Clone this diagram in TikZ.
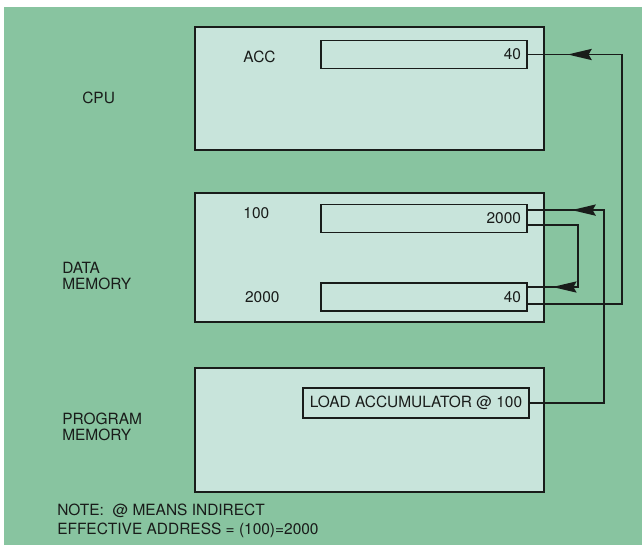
\documentclass[tikz,border=0pt]{standalone}
\usepackage{fontspec}
\setmainfont{TeX Gyre Heros}
\usetikzlibrary{positioning, arrows.meta, decorations.markings}

\definecolor{boardgreen}{RGB}{136,196,160}
\definecolor{panelfill}{RGB}{200,228,219}
\definecolor{ink}{RGB}{25,28,26}

\begin{document}
\begin{tikzpicture}[
    every node/.style={font=\fontsize{11}{11.6}\selectfont, text=ink},
    panel/.style={draw=ink, line width=1.3pt, fill=panelfill, minimum width=8.725cm},
    reg/.style={draw=ink, line width=1.1pt, minimum height=0.7cm, text width=4.85cm, align=right, inner sep=0.15cm},
    cmd/.style={draw=ink, line width=1.1pt, minimum height=0.75cm, minimum width=5.65cm},
    side/.style={anchor=west, align=left, inner sep=0pt},
    wire/.style={draw=ink, line width=1.1pt},
    tip/.style={postaction={decorate}, decoration={markings,
        mark=at position -#1 with {\arrow{Stealth[length=6mm, width=2.8mm, inset=0.8mm]}}}},
]
\useasboundingbox (0,0) rectangle (16.05,13.625);
\fill[boardgreen] (0.1,0) rectangle (16.05,13.45);

% Panels
\node[panel, minimum height=3.075cm] (cpu) at (9.2375, 11.4125) {};
\node[panel, minimum height=3.225cm] (dmem) at (9.2375, 7.1875) {};
\node[panel, minimum height=3.1cm] (pmem) at (9.2375, 2.875) {};

% Panel labels
\node[side] (cpulbl) at (2.05, 11.175) {CPU};
\node[side] (dmemlbl) at (1.55, 6.725) {DATA\\MEMORY};
\node[side] (pmemlbl) at (1.55, 2.95) {PROGRAM\\MEMORY};

% Registers
\node[reg] (acc) at (10.6, 12.2625) {40};
\node[reg] (r100) at (10.6, 8.1625) {2000};
\node[reg] (r2000) at (10.6, 6.2) {40};
\node[cmd] (load) at (10.4, 3.55) {LOAD ACCUMULATOR @ 100};

\node[side] (acclbl) at (6.08, 12.2) {ACC};
\node[side] (a100) at (6.08, 8.3) {100};
\node[side] (a2000) at (6.12, 6.2) {2000};

% Ports on the register edges
\coordinate (r100in) at ([yshift=0.21cm]r100.east);
\coordinate (r100out) at ([yshift=-0.16cm]r100.east);
\coordinate (r2000in) at ([yshift=0.25cm]r2000.east);
\coordinate (r2000out) at ([yshift=-0.175cm]r2000.east);

% Indirect load path
\draw[wire, tip=1.1cm] (load.east) -- ++(1.85,0) |- (r100in);
\draw[wire, tip=0.62cm] (r100out) -- ++(1.25,0) |- (r2000in);
\draw[wire, tip=1cm] (r2000out) -- ++(2.35,0) |- (acc.east);

% Note
\node[side, font=\fontsize{11}{13.5}\selectfont] (note) at (1.425, 0.6) {NOTE:\ \ @ MEANS INDIRECT\\EFFECTIVE ADDRESS = (100)=2000};

\end{tikzpicture}
\end{document}
